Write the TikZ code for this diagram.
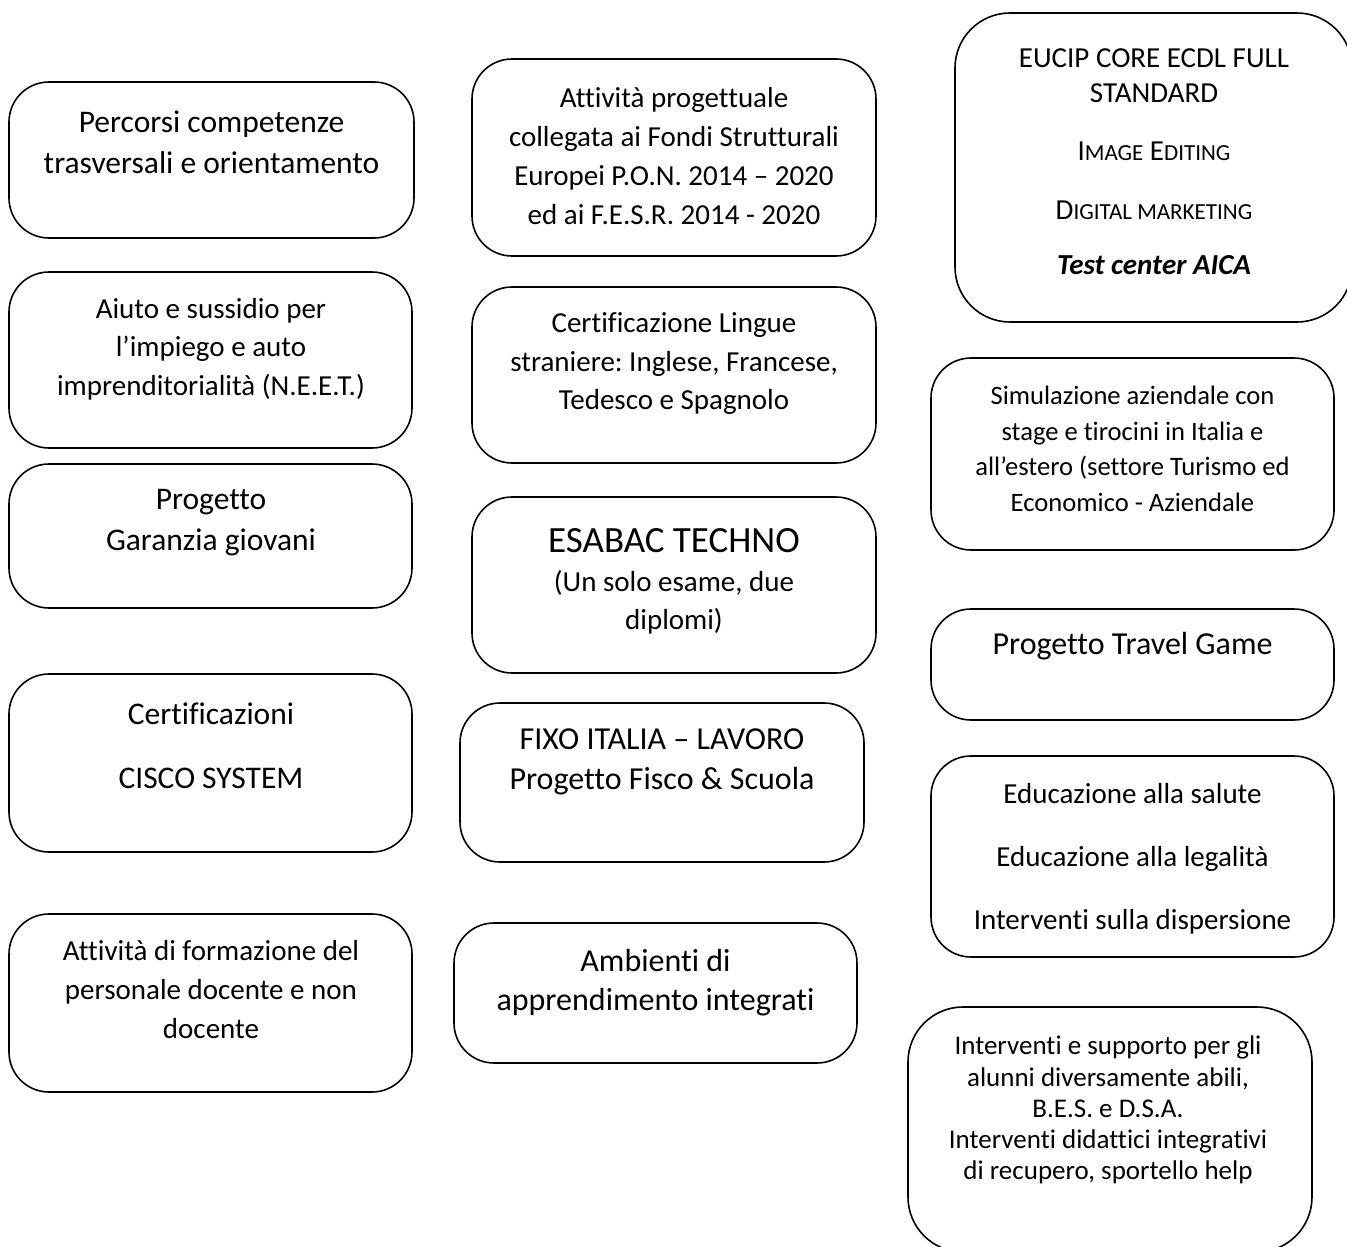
\documentclass[tikz,border=0pt]{standalone}
\usepackage{fontspec}
\setmainfont{Carlito}[RawFeature=-liga, RawFeature=-clig, RawFeature=-calt, RawFeature=-dlig]
\frenchspacing
\newcommand\fsc[1]{{\fontsize{23}{35}\selectfont #1}}
\newcommand\fs[2]{\fontsize{#1}{#2}\selectfont}
\begin{document}
\begin{tikzpicture}[x=1pt,y=-1pt,
  box/.style={draw, line width=1.6pt, rounded corners=40pt, inner sep=0pt, outer sep=0pt},
  bigbox/.style={box, rounded corners=55pt},
  txt/.style={align=center, inner sep=0pt}]
\useasboundingbox (0,0) rectangle (1347,1247);
\clip (0,0) rectangle (1347,1247);
% left column
\node[box, minimum width=405pt, minimum height=156pt] (b1) at (211.5,160) {};
\node[txt, font=\fs{31.5}{41}] (t1) at (211.5,142) {Percorsi competenze\\trasversali e orientamento};
\node[box, minimum width=403pt, minimum height=176pt] (b2) at (210.5,360) {};
\node[txt, font=\fs{29}{38.5}] (t2) at (211,349) {Aiuto e sussidio per\\l’impiego e auto\\imprenditorialità (N.E.E.T.)};
\node[box, minimum width=403pt, minimum height=144pt] (b3) at (210.5,536) {};
\node[txt, font=\fs{31.5}{41}] (t3) at (211,523) {Progetto\\Garanzia giovani};
\node[box, minimum width=403pt, minimum height=178pt] (b4) at (210.5,763) {};
\node[txt, font=\fs{31.5}{41}] (t4) at (211,746) {Certificazioni\\[23pt]CISCO SYSTEM};
\node[box, minimum width=403pt, minimum height=178pt] (b5) at (210.5,1003) {};
\node[txt, font=\fs{29}{39}] (t5) at (211,990) {Attività di formazione del\\personale docente e non\\docente};
% middle column
\node[box, minimum width=404pt, minimum height=197pt] (b6) at (674,157.5) {};
\node[txt, font=\fs{29}{38.7}] (t6) at (674,156) {Attività progettuale\\collegata ai Fondi Strutturali\\Europei P.O.N. 2014 – 2020\\ed ai F.E.S.R. 2014 - 2020};
\node[box, minimum width=404pt, minimum height=176pt] (b7) at (674,375) {};
\node[txt, font=\fs{29}{38.5}] (t7) at (674,364) {Certificazione Lingue\\straniere: Inglese, Francese,\\Tedesco e Spagnolo};
\node[box, minimum width=404pt, minimum height=176pt] (b8) at (674,585) {};
\node[txt, font=\fs{37}{44}] (t8a) at (674,541) {ESABAC TECHNO};
\node[txt, font=\fs{29}{38}] (t8b) at (674,602) {(Un solo esame, due\\diplomi)};
\node[box, minimum width=404pt, minimum height=159pt] (b9) at (662,782.5) {};
\node[txt, font=\fs{32}{40}] (t9) at (662,762) {FIXO ITALIA – LAVORO\\Progetto Fisco \& Scuola};
\node[box, minimum width=403pt, minimum height=140pt] (b10) at (655.5,993) {};
\node[txt, font=\fs{32}{39}] (t10) at (655.5,983) {Ambienti di\\apprendimento integrati};
% right column
\node[bigbox, minimum width=397pt, minimum height=309pt] (b11) at (1153.5,167.5) {};
\node[txt, font=\fs{29}{35}] (t11) at (1154,162) {EUCIP CORE ECDL FULL\\STANDARD\\[23pt]I\fsc{MAGE} E\fsc{DITING}\\[24pt]D\fsc{IGITAL MARKETING}\\[20pt]\textbf{\textit{Test center AICA}}};
\node[box, minimum width=403pt, minimum height=192pt] (b12) at (1132.5,454) {};
\node[txt, font=\fs{26.6}{35.7}] (t12) at (1132.5,449) {Simulazione aziendale con\\stage e tirocini in Italia e\\all’estero (settore Turismo ed\\Economico - Aziendale};
\node[box, minimum width=403pt, minimum height=111pt] (b13) at (1132.5,664.5) {};
\node[txt, font=\fs{32}{40}] (t13) at (1132.5,646) {Progetto Travel Game};
\node[box, minimum width=403pt, minimum height=201pt] (b14) at (1132.5,856.5) {};
\node[txt, font=\fs{29}{39}] (t14) at (1132.5,859) {Educazione alla salute\\[24pt]Educazione alla legalità\\[24pt]Interventi sulla dispersione};
\node[bigbox, minimum width=404pt, minimum height=245pt] (b15) at (1110,1129.5) {};
\node[txt, font=\fs{27}{31.2}] (t15) at (1108,1110) {Interventi e supporto per gli\\alunni diversamente abili,\\B.E.S. e D.S.A.\\Interventi didattici integrativi\\di recupero, sportello help};
\end{tikzpicture}
\end{document}
